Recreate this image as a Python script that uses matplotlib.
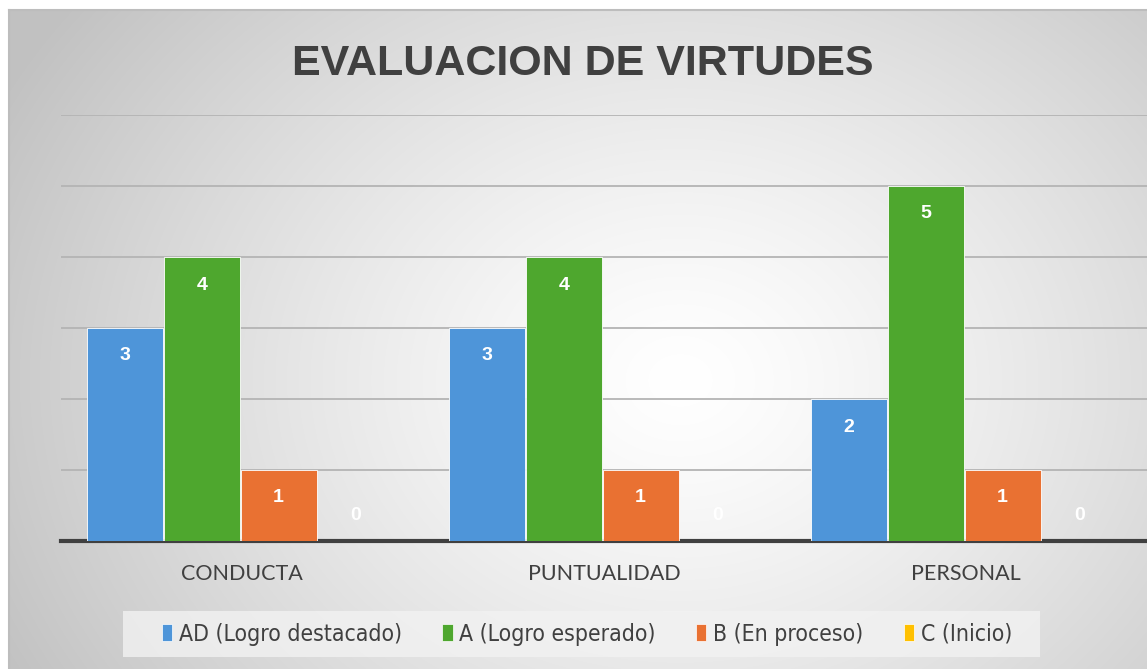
import numpy as np
import matplotlib
matplotlib.use('Agg')
from matplotlib import pyplot as plt
from matplotlib.patches import Rectangle

categorias = ['CONDUCTA', 'PUNTUALIDAD', 'PERSONAL']
series = ['AD (Logro destacado)', 'A (Logro esperado)', 'B (En proceso)', 'C (Inicio)']
ad = [3, 3, 2]
a = [4, 4, 5]
b = [1, 1, 1]
c = [0, 0, 0]
valores = [ad, a, b, c]
colores = ['#4E95D9', '#4EA72E', '#E97132', '#FFC000']

W, H = 1147, 669
fig = plt.figure(figsize=(W / 100, H / 100), dpi=100)

# fondo con degradado radial (gris en bordes, blanco al centro)
bg = fig.add_axes([0, 0, 1, 1], zorder=-2)
yy, xx = np.mgrid[0:H, 0:W]
r = np.sqrt(((xx - 680) / 760.0) ** 2 + ((yy - 380) / 620.0) ** 2)
r = np.clip(r, 0, 1)
g = 1.0 - 0.24 * r ** 1.3
img = np.dstack([g, g, g])
img[:10, :, :] = 1.0
img[:, :9, :] = 1.0
bg.imshow(img, aspect='auto', extent=[0, W, H, 0], interpolation='bilinear')
bg.plot([9, 9], [10, H], color='#bdbdbd', lw=1.5)
bg.plot([9, W], [10, 10], color='#bdbdbd', lw=1.5)
bg.set_xlim(0, W)
bg.set_ylim(H, 0)
bg.axis('off')

ax = fig.add_axes([61 / W, 128 / H, (W - 61) / W, 426 / H])
ax.patch.set_alpha(0)

x = np.arange(len(categorias))
ancho = 0.2125
for i, (vals, col) in enumerate(zip(valores, colores)):
    pos = x + (i - 1.5) * ancho - 0.005
    ax.bar(pos, vals, ancho * 0.99, color=col, edgecolor='#ffffff', linewidth=0.6, zorder=3)
    for px, v in zip(pos, vals):
        off = -28 if v > 0 else 25
        ax.annotate(str(v), (px, v), xytext=(0, off * 0.72), textcoords='offset points',
                    ha='center', va='center', color='white', fontsize=14,
                    fontweight='bold', family='Liberation Sans', zorder=4)

ax.set_xlim(-0.5, 2.5)
ax.set_ylim(0, 6)
ax.set_yticks(range(0, 7))
ax.yaxis.grid(True, color='#b4b4b4', lw=1.3, zorder=0)
ax.tick_params(left=False, labelleft=False, bottom=False)
for s in ['top', 'right', 'left']:
    ax.spines[s].set_visible(False)
ax.spines['bottom'].set_color('#404040')
ax.spines['bottom'].set_linewidth(3)
ax.set_xticks(x)
ax.set_xticklabels(categorias, fontsize=15.5, color='#404040', family='Lato')
ax.tick_params(axis='x', pad=13)

fig.text(583 / W, 1 - 64 / H, 'EVALUACION DE VIRTUDES', ha='center', va='center',
         fontsize=31, fontweight='bold', color='#404040', family='Liberation Sans')

# leyenda
fig.patches.append(Rectangle((123 / W, 1 - 657 / H), 917 / W, 46 / H,
                             transform=fig.transFigure, facecolor='#f2f2f2',
                             edgecolor='none', alpha=0.8, zorder=-1))
handles = [Rectangle((0, 0), 1, 1, facecolor=col, edgecolor='#ffffff', lw=0.5) for col in colores]
leg = fig.legend(handles, series, loc='center', bbox_to_anchor=(587 / W, 1 - 634 / H),
                 ncol=4, frameon=False, handlelength=0.45, handleheight=0.75,
                 handletextpad=0.3, columnspacing=1.75,
                 prop={'family': 'DejaVu Sans', 'stretch': 'condensed', 'size': 16.5})
for t in leg.get_texts():
    t.set_color('#404040')

fig.savefig('out.png', dpi=100)
